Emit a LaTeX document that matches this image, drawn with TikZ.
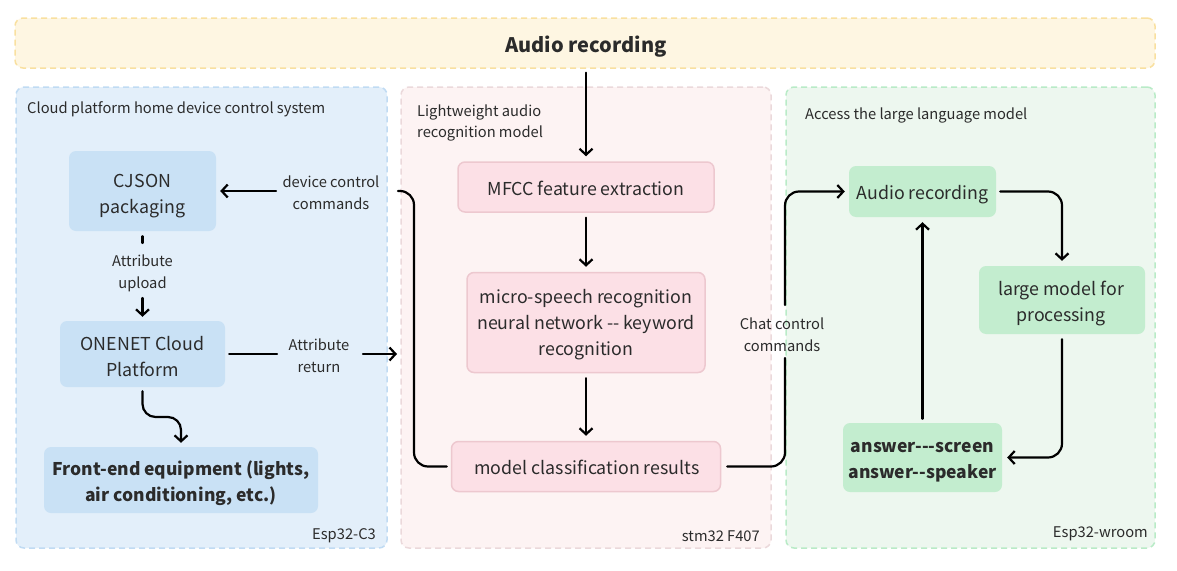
\documentclass[tikz,border=0pt]{standalone}
\usepackage{fontspec}
\setmainfont{Noto Sans CJK SC}[Ligatures=TeXOff]
\usetikzlibrary{arrows.meta}
\definecolor{txt}{HTML}{2B2B2B}
\definecolor{bandfill}{HTML}{FEF6E2}
\definecolor{bandline}{HTML}{F9E0A0}
\definecolor{bluefill}{HTML}{E3EFFA}
\definecolor{blueline}{HTML}{C0DBF3}
\definecolor{bluenode}{HTML}{C9E1F5}
\definecolor{pinkfill}{HTML}{FDF3F3}
\definecolor{pinkline}{HTML}{EBD9DB}
\definecolor{pinknode}{HTML}{FCE0E6}
\definecolor{pinknodeline}{HTML}{EDC8CF}
\definecolor{greenfill}{HTML}{EDF7EF}
\definecolor{greenline}{HTML}{B9EBC7}
\definecolor{greennode}{HTML}{C3EDCF}
\tikzset{
  panel/.style={draw, line width=1.5pt, dash pattern=on 6pt off 4pt, rounded corners=8pt, inner sep=0pt},
  box/.style={rounded corners=7pt, inner sep=0pt},
  bluebox/.style={box, fill=bluenode},
  pinkbox/.style={box, fill=pinknode, draw=pinknodeline, line width=1.5pt},
  greenbox/.style={box, fill=greennode},
  btxt/.style={inner sep=0pt, align=center, text=txt, font=\fontsize{17.8}{26}\selectfont},
  bbtxt/.style={btxt, font=\fontsize{17.5}{26}\selectfont\bfseries},
  lab/.style={inner sep=0pt, align=center, text=txt, font=\fontsize{14.7}{22}\selectfont},
  ptitle/.style={inner sep=0pt, align=left, text=txt, font=\fontsize{14.7}{21}\selectfont},
  con/.style={line width=2.2pt, draw=black, line cap=round},
  arr/.style={con, -{Straight Barb[length=6pt,width=13pt,line width=2.2pt]}},
}
\begin{document}
\begin{tikzpicture}[x=1pt,y=-1pt]
\useasboundingbox (0,0) rectangle (1177,570);
% panels
\node[panel, draw=bandline, fill=bandfill, minimum width=1140pt, minimum height=50pt] (band) at (585,43) {};
\node[text=txt, font=\fontsize{20}{24}\selectfont\bfseries, inner sep=0pt] (bandtxt) at (586,47) {Audio recording};
\node[panel, draw=blueline, fill=bluefill, minimum width=371pt, minimum height=461pt] (pblue) at (201.5,317.5) {};
\node[panel, draw=pinkline, fill=pinkfill, minimum width=370pt, minimum height=461pt] (ppink) at (586,317.5) {};
\node[panel, draw=greenline, fill=greenfill, minimum width=369pt, minimum height=461pt] (pgreen) at (970.5,317.5) {};
% panel titles
\node[ptitle, anchor=west] (tblue) at (27,109) {Cloud platform home device control system};
\node[ptitle, anchor=west] (tpink) at (417,123) {Lightweight audio\\recognition model};
\node[ptitle, anchor=west] (tgreen) at (805,115) {Access the large language model};
\node[ptitle, anchor=east] (fblue) at (376,536) {Esp32-C3};
\node[ptitle, anchor=east] (fpink) at (760,536) {stm32 F407};
\node[ptitle, anchor=east] (fgreen) at (1148,534) {Esp32-wroom};
% blue nodes
\node[bluebox, minimum width=147pt, minimum height=80pt] (cjson) at (142.5,191) {};
\node[btxt] (cjsonT) at (142.5,196) {CJSON\\packaging};
\node[bluebox, minimum width=165pt, minimum height=66pt] (onenet) at (142.5,354) {};
\node[btxt] (onenetT) at (142.5,357) {ONENET Cloud\\Platform};
\node[bluebox, minimum width=274pt, minimum height=66pt] (front) at (181,480) {};
\node[bbtxt] (frontT) at (181,483) {Front-end equipment (lights,\\air conditioning, etc.)};
% pink nodes
\node[pinkbox, minimum width=256pt, minimum height=50pt] (mfcc) at (586,187) {};
\node[btxt] (mfccT) at (586,188) {MFCC feature extraction};
\node[pinkbox, minimum width=238pt, minimum height=100pt] (micro) at (586,322.5) {};
\node[btxt] (microT) at (586,324.5) {micro-speech recognition\\neural network -- keyword\\recognition};
\node[pinkbox, minimum width=269pt, minimum height=50pt] (res) at (586,466.5) {};
\node[btxt] (resT) at (587,467) {model classification results};
% green nodes
\node[greenbox, minimum width=147pt, minimum height=51pt] (audio) at (922.5,191.5) {};
\node[btxt] (audioT) at (922.5,194.5) {Audio recording};
\node[greenbox, minimum width=166pt, minimum height=68pt] (large) at (1062,300) {};
\node[btxt] (largeT) at (1061,304) {large model for\\processing};
\node[greenbox, minimum width=159pt, minimum height=69pt] (answer) at (922.5,457.5) {};
\node[bbtxt] (answerT) at (922.5,462.5) {answer---screen\\answer--speaker};
% labels
\node[lab] (ldc) at (331,193) {device control\\commands};
\node[lab] (lup) at (142.5,273) {Attribute\\upload};
\node[lab] (lret) at (319,356) {Attribute\\return};
\node[lab] (lchat) at (782,335) {Chat control\\commands};
% helper coordinates
\coordinate (dcR) at (398,191);
\coordinate (dcL) at (276,191);
\coordinate (upT) at (142.5,243);
\coordinate (upB) at (142.5,298);
\coordinate (retL) at (277,354);
\coordinate (retR) at (363,354);
\coordinate (retE) at (397,354);
\coordinate (chB) at (785,358);
\coordinate (chT) at (785,305);
% connectors
\draw[arr, shorten >=5pt] (band.south -| mfcc.north) ++(0,4) -- (mfcc.north);
\draw[arr, shorten <=5pt, shorten >=5pt] (mfcc.south) -- (micro.north);
\draw[arr, shorten <=5pt, shorten >=5pt] (micro.south) -- (res.north);
\draw[con, rounded corners=14pt, shorten <=4pt] (res.west) -- (414,466.5) -- (414,191) -- (dcR);
\draw[arr, shorten >=4pt] (dcL) -- (cjson.east |- dcL);
\draw[con, shorten <=5pt] (cjson.south) -- (upT);
\draw[arr, shorten >=4pt] (upB) -- (onenet.north);
\draw[con, shorten <=4pt] (onenet.east |- retL) -- (retL);
\draw[arr] (retR) -- (retE);
\draw[arr, rounded corners=13pt, shorten <=4pt, shorten >=4pt] (onenet.south) -- (142.5,417) -| (front.north);
\draw[con, rounded corners=14pt, shorten <=6pt] (res.east) -- (785,466.5) -- (chB);
\draw[arr, rounded corners=14pt, shorten >=4pt] (chT) -- (785,191.5) -- (audio.west);
\draw[arr, rounded corners=14pt, shorten <=4pt, shorten >=5pt] (audio.east) -- (1062,191.5) -- (large.north);
\draw[arr, rounded corners=14pt, shorten <=5pt, shorten >=5pt] (large.south) -- (1062,457.5) -- (answer.east);
\draw[arr, shorten <=4pt, shorten >=5pt] (answer.north) -- (audio.south);
\end{tikzpicture}
\end{document}
